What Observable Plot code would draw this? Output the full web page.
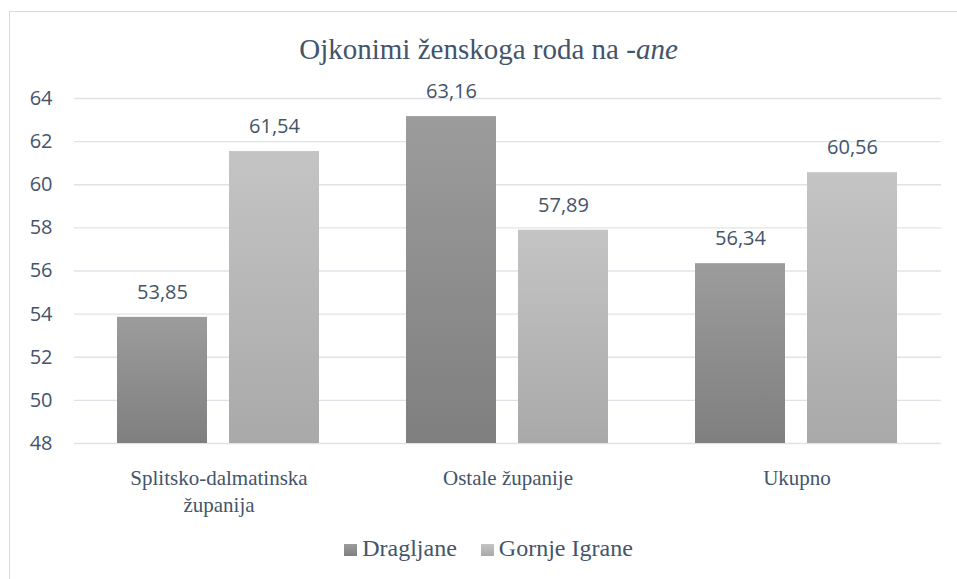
<!DOCTYPE html>
<html>
<head>
<meta charset="utf-8">
<script src="https://cdn.jsdelivr.net/npm/d3@7"></script>
<script src="https://cdn.jsdelivr.net/npm/@observablehq/plot@0.6"></script>
<style>
  html, body { margin: 0; padding: 0; background: #fff; }
  body { width: 957px; height: 579px; position: relative; overflow: hidden; }
  #frame { position: absolute; left: 9px; top: 11px; width: 1000px; height: 600px;
           border-left: 1px solid #d9d9d9; border-top: 1px solid #d9d9d9; }
  #title { position: absolute; left: 9px; width: 959px; top: 32px; line-height: 34px;
           text-align: center; font-family: "Liberation Serif", "DejaVu Serif", serif;
           font-size: 29px; color: #44546a; white-space: nowrap; }
  #title i { font-family: "Liberation Serif", "DejaVu Serif", serif; font-style: italic; }
  #chart { position: absolute; left: 0; top: 80px; }
  #legend { position: absolute; left: 9px; width: 959px; top: 534px; line-height: 28px;
            text-align: center; font-family: "Liberation Serif", "DejaVu Serif", serif;
            font-size: 24px; color: #44546a; white-space: nowrap; }
  .item { display: inline-block; margin: 0 12px; font-family: "Liberation Serif", "DejaVu Serif", serif; }
  .sw { display: inline-block; width: 13px; height: 12px; margin-right: 5px; vertical-align: 0px; }
</style>
</head>
<body>
<div id="frame"></div>
<div id="title">Ojkonimi ženskoga roda na <i>-ane</i></div>
<div id="chart"></div>
<div id="legend"></div>
<script>
const categories = ["Splitsko-dalmatinska županija", "Ostale županije", "Ukupno"];
const categoryLabels = ["Splitsko-dalmatinska\nžupanija", "Ostale županije", "Ukupno"];
const series = ["Dragljane", "Gornje Igrane"];
const dragljane = [53.85, 63.16, 56.34];
const gornjeIgrane = [61.54, 57.89, 60.56];
const yTicks = [48, 50, 52, 54, 56, 58, 60, 62, 64];
const gradients = {
  "Dragljane": ["#9c9c9c", "#7f7f7f"],
  "Gornje Igrane": ["#c4c4c4", "#a9a9a9"]
};

const data = categories.flatMap((c, i) => [
  {category: c, series: series[0], value: dragljane[i]},
  {category: c, series: series[1], value: gornjeIgrane[i]}
]);
const gradId = s => "grad" + series.indexOf(s);
const serif = "'Liberation Serif', 'DejaVu Serif', serif";

const chart = Plot.plot({
  width: 957,
  height: 445,
  marginLeft: 74,
  marginRight: 16,
  marginTop: 18,
  marginBottom: 82,
  style: {fontFamily: "'Open Sans', sans-serif", fontSize: "20px", color: "#44546a", background: "transparent", overflow: "visible"},
  fx: {domain: categories, padding: 0, axis: null},
  x: {domain: series, paddingInner: 0.196, paddingOuter: 0.388, axis: null},
  y: {domain: [yTicks[0], yTicks[yTicks.length - 1]], ticks: yTicks, tickFormat: d => String(d),
      label: null, tickSize: 0, tickPadding: 22},
  color: {domain: series, range: series.map(s => `url(#${gradId(s)})`)},
  marks: [
    Plot.ruleY(yTicks, {stroke: "#dfe3e8", strokeWidth: 1.3}),
    Plot.barY(data, {fx: "category", x: "series", y1: yTicks[0], y2: "value", fill: "series"}),
    Plot.text(data, {fx: "category", x: "series", y: "value",
      text: d => d.value.toFixed(2).replace(".", ","), dy: -25, fontSize: 20, fill: "#44546a"}),
    Plot.text(categories, {fx: d => d, text: (d, i) => categoryLabels[i], frameAnchor: "bottom",
      lineAnchor: "top", lineHeight: 1.3, dy: 22, fontFamily: serif, fontSize: 21, fill: "#44546a"})
  ]
});
document.getElementById("chart").appendChild(chart);

const svg = d3.select(chart.tagName.toLowerCase() === "svg" ? chart : chart.querySelector("svg"));
const defs = svg.insert("defs", ":first-child");
series.forEach(s => {
  const g = defs.append("linearGradient").attr("id", gradId(s))
    .attr("x1", 0).attr("y1", 0).attr("x2", 0).attr("y2", 1);
  g.append("stop").attr("offset", "0%").attr("stop-color", gradients[s][0]);
  g.append("stop").attr("offset", "100%").attr("stop-color", gradients[s][1]);
});

const legend = d3.select("#legend");
series.forEach(s => {
  const it = legend.append("span").attr("class", "item");
  it.append("span").attr("class", "sw")
    .style("background", `linear-gradient(${gradients[s][0]}, ${gradients[s][1]})`);
  it.append("span").text(s);
});
</script>
</body>
</html>
